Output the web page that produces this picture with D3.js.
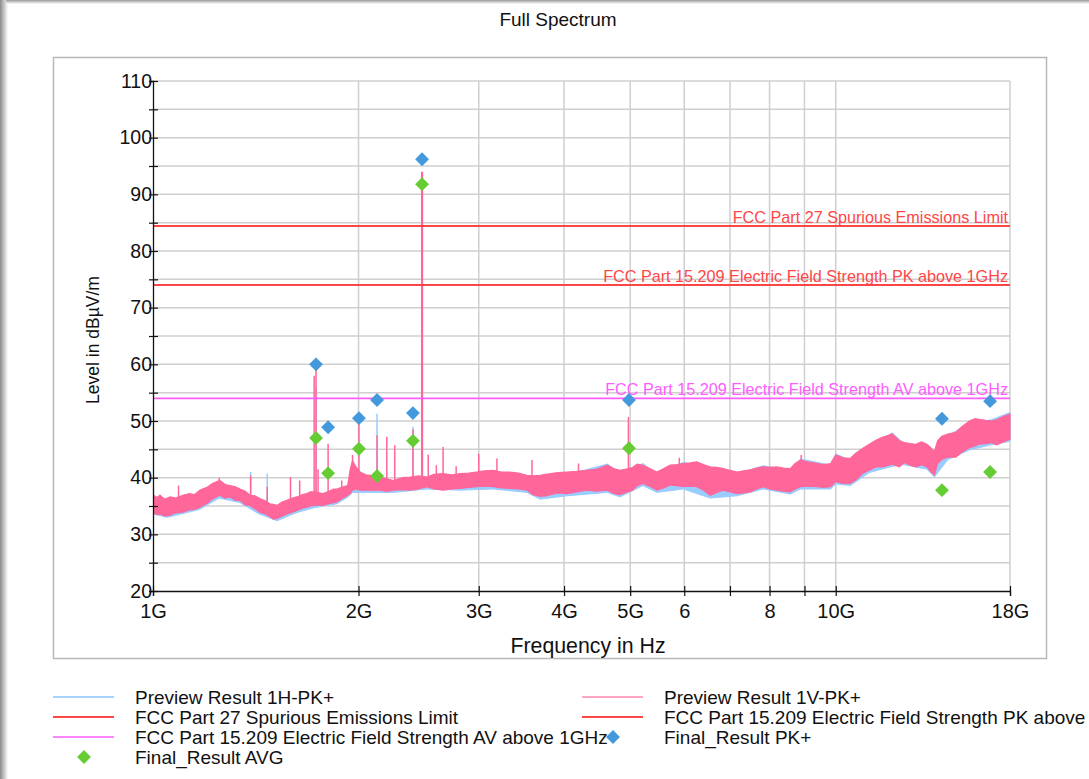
<!DOCTYPE html>
<html>
<head>
<meta charset="utf-8">
<script src="https://cdn.jsdelivr.net/npm/d3@7"></script>
<style>
  body { margin: 0; background: #fff; }
  text { font-family: "Liberation Sans", Arial, sans-serif; fill: #111; }
</style>
</head>
<body>
<div id="chart"></div>
<script>
// chart size
var svgWidth = 1089;
var svgHeight = 779;

// ---- data ----
// Preview Result 1V-PK+ : envelope of the trace (GHz, dBuV/m)
var vFreq = [1.000, 1.012, 1.024, 1.04, 1.059, 1.08, 1.106, 1.13, 1.15, 1.172, 1.20, 1.224, 1.253, 1.275, 1.297, 1.32, 1.341, 1.365, 1.387, 1.41,
  1.434, 1.46, 1.484, 1.50, 1.519, 1.545, 1.571, 1.60, 1.625, 1.655, 1.68, 1.70, 1.727, 1.75, 1.775, 1.81, 1.84, 1.859, 1.89, 1.928,
  1.945, 1.96, 1.98, 2.01, 2.05, 2.08, 2.15, 2.20, 2.25, 2.32, 2.38, 2.45, 2.52, 2.58, 2.66, 2.74, 2.82, 2.90, 2.98, 3.06,
  3.15, 3.24, 3.33, 3.43, 3.53, 3.60, 3.69, 3.76, 3.82, 3.92, 4.04, 4.17, 4.32, 4.47, 4.63, 4.73, 4.83, 4.93, 5.04, 5.12,
  5.22, 5.34, 5.47, 5.60, 5.72, 5.85, 5.98, 6.12, 6.26, 6.40, 6.55, 6.70, 6.84, 7.00, 7.17, 7.33, 7.50, 7.66, 7.83, 8.00,
  8.20, 8.38, 8.58, 8.72, 8.88, 9.10, 9.40, 9.60, 9.83, 10.0, 10.25, 10.5, 10.7, 10.96, 11.2, 11.45, 11.7, 11.9, 12.1, 12.4,
  12.6, 12.85, 13.1, 13.35, 13.6, 13.8, 13.95, 14.1, 14.3, 14.6, 15.0, 15.3, 15.7, 16.0, 16.2, 16.6, 16.9, 17.2, 17.6, 18.0];
var vLo = [34.0, 33.5, 33.6, 33.2, 33.4, 33.8, 33.9, 34.3, 34.4, 34.8, 35.5, 36.3, 36.9, 36.4, 36.6, 36.0, 36.0, 35.2, 35.1, 34.5,
  33.9, 33.6, 33.1, 32.7, 32.8, 33.2, 33.6, 33.9, 34.2, 34.6, 34.8, 35.0, 35.1, 35.2, 35.1, 35.4, 35.6, 35.7, 36.3, 36.9,
  37.2, 37.8, 38.0, 37.8, 37.8, 37.8, 37.8, 37.6, 37.8, 37.9, 37.8, 38.0, 38.4, 38.0, 37.8, 38.0, 38.1, 38.3, 38.4, 38.5,
  38.4, 38.2, 38.1, 38.0, 37.8, 37.0, 36.7, 36.8, 37.0, 37.3, 37.2, 37.5, 37.8, 37.6, 37.8, 37.2, 37.0, 37.4, 37.8, 38.6,
  39.0, 38.5, 37.8, 38.2, 38.7, 38.6, 38.4, 38.5, 38.4, 37.8, 36.9, 37.4, 37.8, 37.5, 37.2, 37.3, 37.5, 38.0, 38.4, 38.0,
  37.8, 37.6, 37.5, 38.0, 38.4, 38.5, 38.4, 38.3, 38.4, 39.3, 39.0, 39.0, 39.6, 40.8, 41.3, 41.9, 41.9, 42.1, 42.4, 41.9,
  42.7, 42.2, 41.9, 42.3, 41.9, 41.0, 40.5, 42.5, 43.2, 43.6, 43.6, 44.5, 45.3, 45.6, 45.9, 46.0, 46.2, 45.8, 46.3, 46.8];
var vHi = [37.0, 36.5, 36.9, 36.2, 36.6, 36.4, 36.9, 37.2, 37.0, 37.8, 38.3, 39.0, 39.5, 38.8, 38.6, 38.4, 38.0, 37.6, 36.9, 36.8,
  36.3, 35.9, 35.4, 35.3, 35.1, 35.7, 36.0, 36.4, 36.6, 37.0, 37.2, 37.5, 37.5, 37.3, 37.2, 37.6, 38.0, 38.0, 38.3, 38.6,
  41.5, 43.0, 42.0, 41.0, 40.5, 40.4, 40.1, 39.8, 39.5, 40.0, 40.1, 40.3, 40.1, 40.6, 40.7, 40.5, 40.7, 40.8, 41.0, 41.2,
  41.3, 41.0, 41.0, 40.8, 40.4, 40.3, 40.4, 40.6, 40.7, 40.9, 41.0, 41.1, 41.3, 41.5, 42.2, 41.6, 41.3, 41.5, 41.8, 42.4,
  42.2, 41.6, 41.0, 41.6, 42.2, 42.3, 42.5, 42.6, 42.8, 42.3, 41.9, 41.8, 41.6, 41.3, 41.0, 41.2, 41.4, 41.7, 41.9, 41.8,
  41.9, 41.7, 41.6, 42.5, 43.1, 42.8, 42.5, 42.3, 42.5, 44.0, 43.5, 43.4, 44.3, 45.2, 45.9, 46.6, 47.1, 47.4, 47.7, 46.5,
  46.2, 46.0, 45.9, 46.3, 45.9, 45.2, 44.6, 46.5, 47.3, 47.7, 48.0, 49.0, 50.0, 50.4, 50.3, 50.1, 50.0, 50.2, 50.8, 51.2];

// Preview Result 1H-PK+ : envelope of the trace
var hFreq = [1.0, 1.05, 1.1, 1.17, 1.25, 1.34, 1.43, 1.52, 1.62, 1.72, 1.86, 1.93, 1.96, 2.05, 2.25, 2.52, 2.82, 3.15, 3.53, 3.69,
  4.04, 4.63, 4.83, 5.22, 5.47, 5.98, 6.55, 7.17, 7.83, 8.58, 8.88, 9.83, 10.0, 10.5, 11.2, 12.1, 12.6, 13.6, 13.95, 14.6, 15.7, 16.9, 18.0];
var hLo = [33.6, 33.0, 33.6, 34.4, 36.4, 35.6, 33.6, 32.4, 33.8, 34.7, 35.4, 36.6, 37.4, 37.4, 37.4, 38.0, 37.8, 38.0, 37.4, 36.2,
  36.8, 37.4, 36.6, 38.6, 37.4, 38.0, 36.4, 36.8, 38.0, 37.1, 38.0, 38.0, 38.9, 38.6, 40.9, 42.0, 42.3, 41.5, 40.1, 43.2, 44.9, 45.8, 46.4];
var hHi = [36.4, 35.8, 36.0, 37.0, 38.8, 37.5, 35.8, 34.6, 36.0, 37.0, 37.5, 38.2, 42.6, 40.0, 39.0, 39.7, 40.2, 40.8, 40.0, 40.0,
  40.5, 42.4, 40.8, 42.5, 40.6, 42.7, 41.6, 40.7, 42.1, 41.3, 43.3, 42.2, 44.2, 43.1, 45.6, 47.9, 46.0, 45.6, 44.3, 47.4, 49.7, 50.2, 51.5];

// narrow spikes of the 1V trace (GHz, foot, top)
var vSpikeFreq = [1.000, 1.09, 1.25, 1.39, 1.47, 1.59, 1.64, 1.722, 1.733, 1.745, 1.805, 1.89, 1.96, 2.003, 2.129, 2.20, 2.26, 2.403,
  2.478, 2.53, 2.60, 2.66, 2.78, 3.0, 3.19, 3.59, 4.2, 4.97, 5.9, 8.9];
var vSpikeFoot = [35.0, 35.0, 37.0, 36.0, 34.5, 35.0, 35.5, 35.5, 35.5, 35.5, 36.0, 36.5, 38.0, 38.0, 38.0, 38.0, 38.0, 38.0,
  38.5, 38.5, 38.5, 38.5, 39.0, 39.0, 39.0, 38.5, 39.0, 38.5, 40.0, 40.0];
var vSpikeTop = [42.5, 38.6, 40.0, 40.4, 38.4, 40.1, 39.5, 58.0, 59.5, 41.5, 46.0, 39.5, 44.0, 50.0, 47.5, 47.2, 45.7, 48.5,
  94.0, 44.1, 42.2, 45.4, 42.0, 44.2, 43.4, 43.1, 42.5, 50.7, 43.5, 44.0];

// narrow spikes of the 1H trace
var hSpikeFreq = [1.000, 1.39, 1.47, 1.733, 2.129, 2.403];
var hSpikeFoot = [35.0, 36.0, 35.0, 36.0, 38.0, 38.0];
var hSpikeTop = [47.5, 41.0, 40.7, 56.0, 51.3, 49.0];

// final results (GHz, dBuV/m)
var finalFreq = [1.733, 1.805, 2.003, 2.129, 2.403, 2.478, 4.98, 14.31, 16.83];
var finalPK = [60.0, 48.9, 50.5, 53.7, 51.4, 96.2, 53.7, 50.4, 53.5];
var finalAVG = [47.0, 40.8, 45.1, 40.3, 46.5, 91.8, 45.2, 37.8, 41.0];

// limit lines
var limitNames = ["FCC Part 27 Spurious Emissions Limit",
  "FCC Part 15.209 Electric Field Strength PK above 1GHz",
  "FCC Part 15.209 Electric Field Strength AV above 1GHz"];
var limitValues = [84.4, 74.0, 54.0];
var limitColors = ["#ff4646", "#ff4646", "#ff5cff"];

// axis ticks
var xTickValues = [1, 2, 3, 4, 5, 6, 7, 8, 9, 10, 18];
var xTickLabels = ["1G", "2G", "3G", "4G", "5G", "6", "", "8", "", "10G", "18G"];
var yTickValues = d3.range(20, 111, 5);

// ---- colours ----
var pinkTrace = "#ff6699";
var blueTrace = "#99ccff";
var pkColor = "#4499dd";
var avgColor = "#66cc33";

// ---- svg ----
var svg = d3.select("#chart")
  .append("svg")
  .attr("width", svgWidth)
  .attr("height", svgHeight);

var defs = svg.append("defs");
var gl = defs.append("linearGradient").attr("id", "shadowL").attr("x1", 0).attr("x2", 1).attr("y1", 0).attr("y2", 0);
gl.append("stop").attr("offset", "0%").attr("stop-color", "#8a8a8a");
gl.append("stop").attr("offset", "100%").attr("stop-color", "#ffffff");
var gt = defs.append("linearGradient").attr("id", "shadowT").attr("x1", 0).attr("x2", 0).attr("y1", 0).attr("y2", 1);
gt.append("stop").attr("offset", "0%").attr("stop-color", "#9a9a9a");
gt.append("stop").attr("offset", "100%").attr("stop-color", "#ffffff");

svg.append("rect").attr("width", svgWidth).attr("height", svgHeight).attr("fill", "#fff");
svg.append("rect").attr("x", 0).attr("y", 0).attr("width", 8).attr("height", svgHeight).attr("fill", "url(#shadowL)");
svg.append("rect").attr("x", 6).attr("y", 0).attr("width", svgWidth - 6).attr("height", 4).attr("fill", "url(#shadowT)");

// inner panel
svg.append("rect")
  .attr("x", 53.5).attr("y", 57.5).attr("width", 993).attr("height", 601)
  .attr("fill", "#fff").attr("stroke", "#b8b8b8").attr("stroke-width", 1.5);

// title
svg.append("text").attr("x", 558).attr("y", 26).attr("text-anchor", "middle")
  .style("font-size", "19px").text("Full Spectrum");

// scales
var x = d3.scaleLog().domain([1, 18]).range([153, 1010]);
var y = d3.scaleLinear().domain([20, 110]).range([591, 81]);

// grid
var grid = svg.append("g").attr("stroke", "#cfcfcf").attr("stroke-width", 1.5);
grid.selectAll("line.h").data(yTickValues.filter(d => d > 20)).enter().append("line")
  .attr("x1", 153).attr("x2", 1010).attr("y1", d => y(d)).attr("y2", d => y(d));
grid.selectAll("line.v").data(xTickValues.filter(d => d > 1)).enter().append("line")
  .attr("x1", d => x(d)).attr("x2", d => x(d)).attr("y1", 81).attr("y2", 591);

// clip for plot
defs.append("clipPath").attr("id", "plotClip").append("rect")
  .attr("x", 153).attr("y", 81).attr("width", 858).attr("height", 510);
var plot = svg.append("g").attr("clip-path", "url(#plotClip)");

// traces as envelope bands
var hData = hFreq.map((f, i) => ({f: f, lo: hLo[i], hi: hHi[i]}));
var vData = vFreq.map((f, i) => ({f: f, lo: vLo[i], hi: vHi[i]}));
var band = d3.area().x(d => x(d.f)).y0(d => y(d.lo)).y1(d => y(d.hi));

// 1H first
plot.append("path").datum(hData).attr("d", band).attr("fill", blueTrace)
  .attr("stroke", blueTrace).attr("stroke-width", 1);
plot.selectAll("line.hs").data(hSpikeFreq).enter().append("line")
  .attr("x1", d => x(d)).attr("x2", d => x(d))
  .attr("y1", (d, i) => y(hSpikeFoot[i])).attr("y2", (d, i) => y(hSpikeTop[i]))
  .attr("stroke", blueTrace).attr("stroke-width", 1.5);

// 1V on top
plot.append("path").datum(vData).attr("d", band).attr("fill", pinkTrace)
  .attr("stroke", pinkTrace).attr("stroke-width", 1.2).attr("stroke-linejoin", "miter");
plot.selectAll("line.vs").data(vSpikeFreq).enter().append("line")
  .attr("x1", d => x(d)).attr("x2", d => x(d))
  .attr("y1", (d, i) => y(vSpikeFoot[i])).attr("y2", (d, i) => y(vSpikeTop[i]))
  .attr("stroke", pinkTrace).attr("stroke-width", (d, i) => vSpikeTop[i] > 80 ? 2.2 : 1.5);

// limit lines and their labels
limitValues.forEach(function(v, i) {
  svg.append("line")
    .attr("x1", 153).attr("x2", 1010).attr("y1", y(v)).attr("y2", y(v))
    .attr("stroke", limitColors[i]).attr("stroke-width", i < 2 ? 2 : 1.6);
  svg.append("text")
    .attr("x", 1008).attr("y", y(v) - 3).attr("text-anchor", "end")
    .style("font-size", "16.2px").style("fill", limitColors[i])
    .text(limitNames[i]);
});

// final result diamonds
var diamond = d3.symbol().type(d3.symbolSquare).size(96);
svg.selectAll("path.pk").data(finalFreq).enter().append("path")
  .attr("d", diamond)
  .attr("transform", (d, i) => `translate(${x(d)},${y(finalPK[i])}) rotate(45)`)
  .attr("fill", pkColor);
svg.selectAll("path.avg").data(finalFreq).enter().append("path")
  .attr("d", diamond)
  .attr("transform", (d, i) => `translate(${x(d)},${y(finalAVG[i])}) rotate(45)`)
  .attr("fill", avgColor);

// x axis
var bottomAxis = d3.axisBottom(x)
  .tickValues(xTickValues)
  .tickFormat((d, i) => xTickLabels[i])
  .tickSize(5).tickPadding(8);
var xg = svg.append("g").attr("transform", "translate(0,591)").call(bottomAxis);
xg.select(".domain").attr("stroke", "#111").attr("stroke-width", 1.3);
xg.selectAll(".tick line").attr("y1", -5).attr("y2", 5).attr("stroke", "#111").attr("stroke-width", 1.2);
xg.selectAll(".tick text").style("font-size", "20px").style("fill", "#111")
  .style("font-family", "'Liberation Sans', Arial, sans-serif");

// y axis
var leftAxis = d3.axisLeft(y)
  .tickValues(yTickValues)
  .tickFormat(d => d % 10 === 0 ? d : "")
  .tickSize(4).tickPadding(0);
var yg = svg.append("g").attr("transform", "translate(153,0)").call(leftAxis);
yg.select(".domain").attr("stroke", "#111").attr("stroke-width", 1.3);
yg.selectAll(".tick line").attr("x1", -4).attr("x2", 5).attr("stroke", "#111").attr("stroke-width", 1.2);
yg.selectAll(".tick text").attr("x", -1).style("font-size", "19.5px").style("fill", "#111")
  .style("font-family", "'Liberation Sans', Arial, sans-serif");

// axis titles
svg.append("text").attr("x", 588).attr("y", 653).attr("text-anchor", "middle")
  .style("font-size", "21.3px").text("Frequency in Hz");
svg.append("text").attr("transform", "translate(99,340) rotate(-90)").attr("text-anchor", "middle")
  .style("font-size", "17.5px").text("Level in dBµV/m");

// legend
var legendLabels = ["Preview Result 1H-PK+", "Preview Result 1V-PK+",
  "FCC Part 27 Spurious Emissions Limit", "FCC Part 15.209 Electric Field Strength PK above 1GHz",
  "FCC Part 15.209 Electric Field Strength AV above 1GHz", "Final_Result PK+",
  "Final_Result AVG"];
var legendKinds = ["line", "line", "line", "line", "line", "diamond", "diamond"];
var legendColors = ["#a9d3ff", "#ffa6c4", "#ff4646", "#ff4646", "#ff85ff", pkColor, avgColor];
var legendRowY = [697, 717, 737, 757];

var legend = svg.append("g");
legendLabels.forEach(function(lab, i) {
  var col = i % 2, row = Math.floor(i / 2);
  var ox = col * 529;
  var cy = legendRowY[row];
  legend.append("text").attr("x", 135 + ox).attr("y", cy + 6.5)
    .style("font-size", "19px").text(lab);
});
legendLabels.forEach(function(lab, i) {
  var col = i % 2, row = Math.floor(i / 2);
  var ox = col * 529;
  var cy = legendRowY[row];
  if (legendKinds[i] === "line") {
    legend.append("line").attr("x1", 53 + ox).attr("x2", 114 + ox).attr("y1", cy).attr("y2", cy)
      .attr("stroke", legendColors[i]).attr("stroke-width", 2);
  } else {
    legend.append("path").attr("d", diamond)
      .attr("transform", `translate(${84 + ox},${cy}) rotate(45)`)
      .attr("fill", legendColors[i]);
  }
});
</script>
</body>
</html>
